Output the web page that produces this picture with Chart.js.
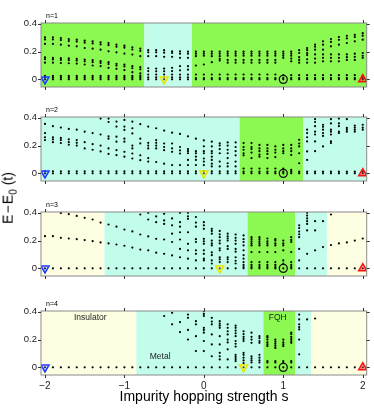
<!DOCTYPE html>
<html>
<head>
<meta charset="utf-8">
<script src="https://cdn.jsdelivr.net/npm/chart.js@4.4.1/dist/chart.umd.min.js"></script>
<style>
  html, body { margin: 0; padding: 0; background: #fff; }
  #fig { position: relative; width: 374px; height: 414px; overflow: hidden; font-family: "Liberation Sans", Arial, sans-serif; }
  #fig canvas { position: absolute; left: 0; }
  #ytitle { position: absolute; left: 9px; top: 198px; transform: translate(-50%, -50%) rotate(-90deg); font-size: 14px; white-space: nowrap; color: #000; }
  #ytitle sub { font-size: 10px; }
  #xtitle { position: absolute; left: 204px; top: 396px; transform: translate(-50%, -50%); font-size: 14px; white-space: nowrap; color: #000; }
</style>
</head>
<body>
<div id="fig">
  <canvas id="p1" width="374" height="84"></canvas>
  <canvas id="p2" width="374" height="84"></canvas>
  <canvas id="p3" width="374" height="84"></canvas>
  <canvas id="p4" width="374" height="100"></canvas>
  <div id="ytitle">E&#8202;−&#8202;E<sub>0</sub> (t)</div>
  <div id="xtitle">Impurity hopping strength s</div>
</div>
<script>
// impurity hopping strength grid
const sGrid = [-2,-1.9,-1.8,-1.7,-1.6,-1.5,-1.4,-1.3,-1.2,-1.1,-1,-0.9,-0.8,-0.7,-0.6,-0.5,-0.4,-0.3,-0.2,-0.1,0,
               0.1,0.2,0.3,0.4,0.5,0.6,0.7,0.8,0.9,1,1.1,1.2,1.3,1.4,1.5,1.6,1.7,1.8,1.9,2];

const xTicks = [-2, -1, 0, 1, 2];
const yTicks = [0, 0.2, 0.4];

// energies E - E0 for each s, one list per column
const levelsN1 = [
  [0,0.012,0.025,0.12,0.145,0.158,0.255,0.287,0.302],
  [0,0.012,0.025,0.12,0.143,0.155,0.255,0.287,0.302],
  [0,0.012,0.025,0.118,0.14,0.153,0.25,0.283,0.298],
  [0,0.012,0.025,0.116,0.138,0.151,0.243,0.276,0.29],
  [0,0.012,0.025,0.114,0.135,0.148,0.238,0.272,0.286],
  [0,0.012,0.025,0.107,0.13,0.143,0.226,0.264,0.279],
  [0,0.012,0.025,0.1,0.124,0.138,0.221,0.259,0.274],
  [0,0.012,0.025,0.095,0.118,0.131,0.214,0.252,0.267],
  [0,0.012,0.025,0.083,0.11,0.124,0.202,0.246,0.262],
  [0,0.012,0.025,0.076,0.099,0.112,0.195,0.235,0.25],
  [0,0.012,0.025,0.067,0.093,0.107,0.186,0.228,0.243],
  [0,0.012,0.025,0.052,0.08,0.095,0.179,0.215,0.231],
  [0,0.012,0.025,0.043,0.072,0.088,0.167,0.205,0.221],
  [0,0.015,0.035,0.06,0.08,0.167,0.195,0.21],
  [0,0.015,0.035,0.058,0.078,0.167,0.195,0.21],
  [0,0.015,0.035,0.058,0.078,0.162,0.192,0.21],
  [0,0.015,0.035,0.06,0.083,0.162,0.19,0.202],
  [0,0.015,0.035,0.065,0.095,0.155,0.185,0.202],
  [0,0.015,0.035,0.07,0.095,0.155,0.185,0.2],
  [0,0.01,0.035,0.1,0.167,0.185,0.2],
  [0,0.01,0.035,0.107,0.17,0.185,0.2],
  [0,0.01,0.035,0.124,0.167,0.185,0.2],
  [0,0.01,0.035,0.135,0.148,0.167,0.185,0.2],
  [0,0.01,0.035,0.12,0.14,0.17,0.185,0.2],
  [0,0.01,0.035,0.12,0.14,0.17,0.185,0.2],
  [0,0.01,0.035,0.12,0.14,0.17,0.185,0.2],
  [0,0.01,0.035,0.12,0.14,0.17,0.185,0.2],
  [0,0.01,0.035,0.12,0.14,0.17,0.185,0.2],
  [0,0.01,0.035,0.12,0.14,0.17,0.185,0.2],
  [0,0.01,0.035,0.12,0.14,0.17,0.185,0.2],
  [0,0.01,0.03,0.155,0.17,0.185,0.2],
  [0,0.01,0.03,0.13,0.15,0.17,0.185,0.2],
  [0,0.01,0.03,0.12,0.14,0.16,0.19,0.21],
  [0,0.01,0.03,0.12,0.145,0.175,0.19,0.21,0.226],
  [0,0.01,0.03,0.12,0.15,0.18,0.214,0.235,0.25],
  [0,0.01,0.03,0.13,0.155,0.18,0.214,0.25,0.274],
  [0,0.01,0.03,0.13,0.155,0.18,0.238,0.27,0.29],
  [0,0.01,0.03,0.13,0.155,0.18,0.25,0.285,0.305],
  [0,0.01,0.03,0.14,0.16,0.18,0.262,0.295,0.314],
  [0,0.01,0.03,0.14,0.162,0.185,0.274,0.305,0.321],
  [0,0.01,0.025,0.155,0.17,0.19,0.286,0.315,0.333]
];

const levelsN2 = [
  [0,0.015,0.24,0.26,0.29,0.356],
  [0,0.015,0.225,0.245,0.26,0.34],
  [0,0.015,0.218,0.24,0.255,0.33],
  [0,0.015,0.206,0.225,0.245,0.32],
  [0,0.015,0.2,0.22,0.24,0.315],
  [0,0.015,0.18,0.225,0.3],
  [0,0.015,0.17,0.21,0.29],
  [0,0.015,0.158,0.2,0.28,0.395],
  [0,0.015,0.14,0.18,0.25,0.267,0.37,0.395],
  [0,0.015,0.131,0.167,0.228,0.264,0.337,0.373],
  [0,0.015,0.12,0.155,0.228,0.25,0.313,0.337,0.385],
  [0,0.015,0.107,0.143,0.18,0.2,0.288,0.325,0.373],
  [0,0.015,0.095,0.13,0.216,0.25,0.354],
  [0,0.015,0.085,0.11,0.18,0.2,0.22,0.337],
  [0,0.015,0.082,0.18,0.2,0.22,0.24,0.325],
  [0,0.015,0.07,0.167,0.19,0.215,0.308],
  [0,0.015,0.06,0.155,0.18,0.215,0.293],
  [0,0.015,0.06,0.143,0.165,0.19,0.284],
  [0,0.015,0.06,0.097,0.145,0.16,0.175,0.267],
  [0,0.015,0.06,0.097,0.12,0.145,0.16,0.25],
  [0,0.015,0.06,0.085,0.107,0.145,0.16,0.195,0.237],
  [0,0.015,0.05,0.07,0.097,0.12,0.145,0.16,0.194,0.228],
  [0,0.015,0.05,0.085,0.145,0.175,0.2,0.216],
  [0,0.015,0.05,0.073,0.11,0.145,0.17,0.2,0.223],
  [0,0.015,0.05,0.085,0.13,0.16,0.19,0.223],
  [0,0.012,0.035,0.13,0.145,0.17,0.19,0.218],
  [0,0.012,0.035,0.11,0.15,0.175,0.19,0.218],
  [0,0.012,0.035,0.12,0.135,0.16,0.18,0.205],
  [0,0.012,0.035,0.11,0.14,0.16,0.18,0.205],
  [0,0.012,0.035,0.117,0.15,0.17,0.194],
  [0,0.012,0.035,0.145,0.16,0.18,0.205],
  [0,0.012,0.025,0.133,0.16,0.18,0.205],
  [0,0.012,0.073,0.145,0.194,0.215,0.242],
  [0,0.012,0.097,0.158,0.23,0.26,0.29,0.315],
  [0,0.012,0.16,0.23,0.28,0.3,0.34,0.37,0.39],
  [0,0.012,0.194,0.27,0.29,0.315,0.335,0.35],
  [0,0.012,0.218,0.23,0.28,0.3,0.315,0.36,0.39],
  [0,0.012,0.29,0.3,0.34,0.36,0.395],
  [0,0.012,0.3,0.315,0.327,0.39],
  [0,0.012,0.3,0.315,0.33,0.344],
  [0,0.012,0.315,0.33,0.35]
];

const levelsN3 = [
  [0,0.232],
  [0,0.232],
  [0,0.22,0.398],
  [0,0.215,0.39],
  [0,0.21,0.378],
  [0,0.204,0.364],
  [0,0.196,0.352],
  [0,0.187,0.33],
  [0,0.18,0.316],
  [0,0.172,0.3],
  [0,0.163,0.28],
  [0,0.15,0.266],
  [0,0.135,0.244,0.388],
  [0,0.13,0.23,0.352,0.4],
  [0,0.113,0.213,0.333,0.374],
  [0,0.105,0.208,0.32,0.345,0.393],
  [0,0.093,0.19,0.25,0.31,0.36],
  [0,0.08,0.14,0.208,0.26,0.3,0.333,0.4],
  [0,0.07,0.13,0.177,0.26,0.357,0.375,0.4],
  [0,0.057,0.105,0.13,0.19,0.21,0.3,0.33,0.37],
  [0,0.057,0.07,0.105,0.13,0.177,0.195,0.213,0.285,0.31,0.333],
  [0,0.035,0.057,0.095,0.115,0.165,0.18,0.2,0.25,0.27,0.285],
  [0,0.045,0.065,0.08,0.13,0.145,0.18,0.2,0.225,0.245,0.27],
  [0,0.045,0.065,0.08,0.14,0.16,0.2,0.215,0.23,0.25],
  [0,0.035,0.055,0.08,0.12,0.14,0.177,0.2,0.22,0.244],
  [0,0.01,0.025,0.045,0.07,0.095,0.13,0.165,0.19,0.21,0.237],
  [0,0.01,0.025,0.045,0.117,0.165,0.18,0.195,0.21,0.225],
  [0,0.01,0.025,0.045,0.117,0.165,0.18,0.195,0.21,0.225],
  [0,0.01,0.025,0.045,0.117,0.165,0.18,0.195,0.215],
  [0,0.01,0.025,0.045,0.117,0.165,0.18,0.2,0.21],
  [0,0.035,0.057,0.13,0.165,0.18,0.2],
  [0,0.01,0.025,0.045,0.117,0.19,0.205,0.225],
  [0,0.057,0.14,0.225,0.245,0.265,0.29,0.31],
  [0,0.105,0.273,0.32,0.34,0.36,0.38,0.4],
  [0,0.13,0.273,0.34],
  [0,0.153,0.34],
  [0,0.168,0.388],
  [0,0.18],
  [0,0.187],
  [0,0.2],
  [0,0.215]
];

const levelsN4 = [
  [0],[0],[0],[0],[0],[0],[0],[0],[0],[0],[0],[0],
  [0],
  [0],
  [0],
  [0,0.37],
  [0,0.31,0.393],
  [0,0.254,0.326],
  [0,0.2,0.27,0.357,0.38],
  [0,0.117,0.225,0.31,0.333],
  [0,0.117,0.19,0.25,0.27,0.285,0.37,0.385,0.405],
  [0,0.08,0.165,0.237,0.31,0.33,0.357],
  [0,0.057,0.08,0.105,0.165,0.225,0.285,0.3,0.315,0.333],
  [0,0.057,0.13,0.18,0.2,0.237,0.26,0.285,0.31],
  [0,0.045,0.06,0.075,0.09,0.15,0.17,0.19,0.225,0.245,0.265,0.285,0.3],
  [0,0.03,0.05,0.07,0.09,0.105,0.19,0.205,0.22,0.24,0.26],
  [0,0.035,0.05,0.065,0.08,0.177,0.2,0.22,0.25],
  [0,0.035,0.05,0.07,0.09,0.177,0.19,0.21,0.225],
  [0,0.035,0.045,0.153,0.165,0.18,0.2,0.215,0.225],
  [0,0.035,0.045,0.14,0.155,0.17,0.185,0.2],
  [0,0.035,0.045,0.153,0.165,0.18,0.2],
  [0,0.035,0.045,0.177,0.19,0.205,0.22,0.24,0.25],
  [0,0.094,0.2,0.273,0.29,0.31,0.345,0.38],
  [0,0.345],
  [0,0.352],
  [0],[0],[0],[0],[0],[0]
];

// phase regions: [phase, s from, s to]
const regionsN1 = [['fqh',-2.05,-0.75],['metal',-0.75,-0.15],['fqh',-0.15,2.05]];
const regionsN2 = [['metal',-2.05,0.45],['fqh',0.45,1.25],['metal',1.25,2.05]];
const regionsN3 = [['ins',-2.05,-1.25],['metal',-1.25,0.55],['fqh',0.55,1.15],['metal',1.15,1.55],['ins',1.55,2.05]];
const regionsN4 = [['ins',-2.05,-0.85],['metal',-0.85,0.75],['fqh',0.75,1.15],['metal',1.15,1.35],['ins',1.35,2.05]];

// yellow marker position per panel
const yellowS = [-0.5, 0, 0.2, 0.5];

const phaseLabels = [['Insulator',-1.43,0.36],['Metal',-0.55,0.075],['FQH',0.93,0.36]];

const phaseColor = { fqh: '#8cf852', metal: '#c2fdeb', ins: '#fefee2' };
const FONT = '"Liberation Sans", Arial, sans-serif';

const panels = [
  { id: 'p1', name: 'n=1', top: 23.3, levels: levelsN1, regions: regionsN1 },
  { id: 'p2', name: 'n=2', top: 117.3, levels: levelsN2, regions: regionsN2 },
  { id: 'p3', name: 'n=3', top: 211.7, levels: levelsN3, regions: regionsN3 },
  { id: 'p4', name: 'n=4', top: 311, levels: levelsN4, regions: regionsN4, bottom: true }
];

const backgroundPlugin = {
  id: 'phases',
  beforeDatasetsDraw(chart, args, opts) {
    const { ctx, chartArea: a, scales: { x } } = chart;
    ctx.save();
    opts.regions.forEach(r => {
      const x1 = Math.max(a.left, x.getPixelForValue(r[1]));
      const x2 = Math.min(a.right, x.getPixelForValue(r[2]));
      ctx.fillStyle = phaseColor[r[0]];
      ctx.fillRect(x1, a.top, x2 - x1, a.bottom - a.top);
    });
    ctx.restore();
  },
  afterDraw(chart, args, opts) {
    const { ctx, chartArea: a, scales: { x, y } } = chart;
    ctx.save();
    // frame
    ctx.strokeStyle = '#8a8a8a';
    ctx.lineWidth = 1;
    ctx.strokeRect(a.left, a.top, a.right - a.left, a.bottom - a.top);
    // outward ticks on all four sides
    ctx.strokeStyle = '#333';
    ctx.beginPath();
    xTicks.forEach(v => {
      const px = Math.round(x.getPixelForValue(v)) + 0.5;
      ctx.moveTo(px, a.top); ctx.lineTo(px, a.top - 3);
      ctx.moveTo(px, a.bottom); ctx.lineTo(px, a.bottom + 3);
    });
    yTicks.forEach(v => {
      const py = Math.round(y.getPixelForValue(v)) + 0.5;
      ctx.moveTo(a.left, py); ctx.lineTo(a.left - 3, py);
      ctx.moveTo(a.right, py); ctx.lineTo(a.right + 3, py);
    });
    ctx.stroke();
    // panel name
    ctx.fillStyle = '#000';
    ctx.font = '7px ' + FONT;
    ctx.textBaseline = 'alphabetic';
    ctx.fillText(opts.name, a.left + 5, a.top - 5);
    // phase names in last panel
    if (opts.labels) {
      ctx.font = '8.5px ' + FONT;
      ctx.fillStyle = '#222';
      ctx.textAlign = 'center';
      ctx.textBaseline = 'middle';
      phaseLabels.forEach(l => ctx.fillText(l[0], x.getPixelForValue(l[1]), y.getPixelForValue(l[2])));
    }
    ctx.restore();
  }
};

panels.forEach((p, k) => {
  const canvas = document.getElementById(p.id);
  canvas.style.top = (p.top - 10) + 'px';

  const dots = [];
  p.levels.forEach((col, i) => col.forEach(e => dots.push({ x: sGrid[i], y: e })));

  new Chart(canvas, {
    type: 'scatter',
    data: {
      datasets: [
        { data: [{ x: -2, y: 0 }], pointStyle: 'triangle', rotation: 180, pointRadius: 4.6,
          borderColor: '#1e3cff', backgroundColor: 'rgba(120,150,255,0.25)', borderWidth: 1.6, order: 0 },
        { data: [{ x: yellowS[k], y: 0 }], pointStyle: 'triangle', rotation: 180, pointRadius: 4.6,
          borderColor: '#e6e600', backgroundColor: 'rgba(255,255,120,0.3)', borderWidth: 1.6, order: 0 },
        { data: [{ x: 1, y: 0 }], pointStyle: 'circle', pointRadius: 4,
          borderColor: '#111', backgroundColor: 'rgba(0,0,0,0)', borderWidth: 1.3, order: 0 },
        { data: [{ x: 2, y: 0 }], pointStyle: 'triangle', pointRadius: 4.6,
          borderColor: '#ff1010', backgroundColor: 'rgba(255,90,90,0.3)', borderWidth: 1.6, order: 0 },
        { data: dots, pointRadius: 1.1, borderWidth: 0, backgroundColor: '#000', order: 1 }
      ]
    },
    options: {
      responsive: false,
      animation: false,
      devicePixelRatio: 1,
      layout: { padding: { top: 10, right: 7.3, bottom: p.bottom ? 4 : 10, left: 0 } },
      plugins: {
        legend: { display: false },
        tooltip: { enabled: false },
        phases: { regions: p.regions, name: p.name, labels: !!p.bottom }
      },
      scales: {
        x: {
          type: 'linear', min: -2.05, max: 2.05,
          display: !!p.bottom,
          grid: { display: false, drawTicks: false },
          border: { display: false },
          afterBuildTicks: s => { s.ticks = xTicks.map(v => ({ value: v })); },
          afterFit: s => { s.height = p.bottom ? 22 : 0; },
          ticks: {
            padding: 5, color: '#222',
            font: { family: FONT, size: 10 },
            callback: v => (v < 0 ? '\u2212' + Math.abs(v) : String(v))
          }
        },
        y: {
          type: 'linear', min: -0.055, max: 0.406,
          grid: { display: false, drawTicks: false },
          border: { display: false },
          afterBuildTicks: s => { s.ticks = yTicks.map(v => ({ value: v })); },
          afterFit: s => { s.width = 41; },
          ticks: {
            padding: 4, color: '#222',
            font: { family: FONT, size: 9.5 },
            callback: v => String(v)
          }
        }
      }
    },
    plugins: [backgroundPlugin]
  });
});
</script>
</body>
</html>
